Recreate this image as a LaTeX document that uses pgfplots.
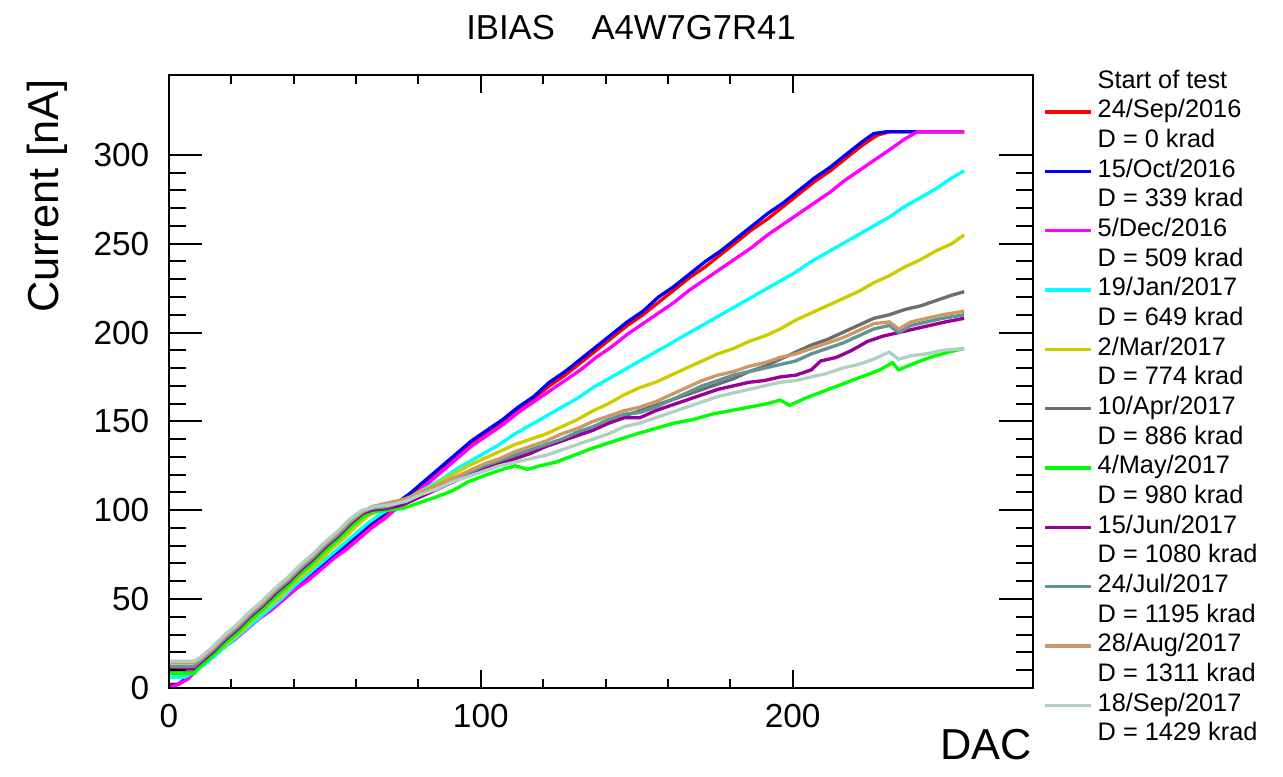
\documentclass[border=0pt]{standalone}
\usepackage{pgfplots}
\pgfplotsset{compat=1.18}
\usepackage{fontspec}
\setmainfont{Liberation Sans}
\definecolor{cRed}{RGB}{255,0,0}
\definecolor{cBlue}{RGB}{0,0,255}
\definecolor{cMag}{RGB}{255,0,255}
\definecolor{cCyan}{RGB}{0,255,255}
\definecolor{cYel}{RGB}{204,204,0}
\definecolor{cGray}{RGB}{110,110,110}
\definecolor{cGreen}{RGB}{0,255,0}
\definecolor{cPurp}{RGB}{153,0,153}
\definecolor{cTeal}{RGB}{95,149,149}
\definecolor{cBrown}{RGB}{204,153,102}
\definecolor{cLight}{RGB}{176,208,196}
\begin{document}
\begin{tikzpicture}
\useasboundingbox (-50.7pt,-26.7pt) rectangle (334.3pt,206.4pt);
\begin{axis}[
  at={(0,0)}, anchor=south west, scale only axis,
  width=259.2pt, height=183.9pt,
  xmin=0, xmax=277, ymin=0, ymax=345,
  xtick={0,100,200}, minor x tick num=4,
  ytick=\empty,
  tick align=inside, xtick pos=both,
  major tick length=5.4pt, minor tick length=2.7pt,
  axis line style={line width=0.6pt},
  tick style={line width=0.6pt, black},
  /pgf/number format/assume math mode=true,
  tick label style={font=\fontsize{10}{12}\selectfont},
  xticklabel style={yshift=-1.5pt},
  title={IBIAS\hspace{11pt}A4W7G7R41},
  title style={at={(axis description cs:0.535,1.045)}, anchor=center, font=\fontsize{10.4}{12}\selectfont},
  xlabel={DAC},
  xlabel style={at={(axis description cs:1,-0.093)}, anchor=east, inner sep=0pt, font=\fontsize{13}{15}\selectfont},
  ylabel={Current [nA]},
  ylabel style={at={(axis description cs:-0.141,1.012)}, anchor=east, font=\fontsize{13}{15}\selectfont},
  legend style={at={(axis description cs:1,1)}, anchor=north west, xshift=3.0pt, yshift=1.1pt,
    draw=none, fill=none, inner sep=0pt, row sep=2.6pt, column sep=1.5pt,
    font=\fontsize{7.6}{9}\selectfont,
    nodes={inner sep=0pt, text height=4.9pt, text depth=1.4pt}},
  legend cell align=left,
  legend image code/.code={\draw[#1] (0pt,0pt) -- (13.8pt,0pt);},
  every axis plot/.append style={line width=1pt},
]
\addlegendimage{empty legend}\addlegendentry{Start of test}
\addplot[cRed] coordinates {(0,2)(3,2)(6,5)(9,11)(13,17)(17,22)(21,28)(25,34)(29,40)(33,45)(37,51)(41,57)(45,62)(49,68)(53,74)(57,79)(61,85)(65,91)(69,97)(73,102)(77,108)(81,113)(85,119)(89,125)(93,131)(97,137)(102,143)(107,150)(112,156)(117,163)(122,170)(127,176)(132,183)(137,190)(142,197)(147,204)(152,210)(157,217)(162,224)(167,231)(172,237)(177,244)(182,251)(187,258)(192,264)(197,271)(202,278)(207,285)(212,291)(217,298)(222,305)(227,311)(231,313)(240,313)(255,313)};
\addlegendentry{24/Sep/2016}
\addlegendimage{empty legend}\addlegendentry{D = 0 krad}
\addplot[cBlue] coordinates {(0,1)(3,2)(6,6)(9,12)(13,18)(17,23)(21,29)(25,35)(29,41)(33,47)(37,52)(41,58)(45,64)(49,69)(53,75)(57,81)(61,87)(65,93)(69,98)(73,104)(77,109)(81,115)(85,121)(89,127)(93,133)(97,139)(102,145)(107,151)(112,158)(117,164)(122,172)(127,178)(132,185)(137,192)(142,199)(147,206)(152,212)(157,220)(162,226)(167,233)(172,240)(177,246)(182,253)(187,260)(192,267)(197,273)(202,280)(207,287)(212,293)(217,300)(222,307)(226,312)(230,313)(240,313)(255,313)};
\addlegendentry{15/Oct/2016}
\addlegendimage{empty legend}\addlegendentry{D = 339 krad}
\addplot[cMag] coordinates {(0,0)(3,2)(6,5)(9,10)(13,16)(17,22)(21,27)(25,33)(29,39)(33,44)(37,50)(41,56)(45,61)(49,67)(53,73)(57,78)(61,84)(65,90)(69,95)(73,101)(77,106)(81,112)(85,118)(89,124)(93,130)(97,136)(102,142)(107,148)(112,155)(117,161)(122,167)(127,173)(132,179)(137,186)(142,192)(147,199)(152,205)(157,211)(162,217)(167,224)(172,230)(177,236)(182,242)(187,248)(192,255)(197,261)(202,267)(207,273)(212,279)(217,286)(222,292)(227,298)(232,304)(236,309)(240,313)(247,313)(255,313)};
\addlegendentry{5/Dec/2016}
\addlegendimage{empty legend}\addlegendentry{D = 509 krad}
\addplot[cCyan] coordinates {(0,6)(5,6)(8,9)(12,14)(16,20)(20,26)(24,32)(28,38)(32,44)(36,50)(40,57)(44,63)(48,69)(52,75)(56,81)(60,87)(64,93)(68,98)(72,102)(76,106)(80,110)(84,114)(88,118)(92,123)(96,127)(101,132)(106,137)(111,143)(116,148)(121,153)(126,158)(131,163)(136,169)(141,174)(146,179)(151,184)(156,189)(161,194)(166,199)(171,204)(176,209)(181,214)(186,219)(191,224)(196,229)(201,234)(206,240)(211,245)(216,250)(221,255)(226,260)(231,265)(236,271)(241,276)(246,281)(251,287)(255,291)};
\addlegendentry{19/Jan/2017}
\addlegendimage{empty legend}\addlegendentry{D = 649 krad}
\addplot[cYel] coordinates {(0,9)(7,9)(9,11)(12,15)(16,21)(20,27)(24,33)(28,40)(32,46)(36,52)(40,59)(44,65)(48,71)(52,78)(56,84)(60,91)(64,97)(68,100)(72,104)(76,106)(80,110)(84,113)(88,117)(92,121)(96,125)(101,129)(106,133)(111,137)(116,140)(121,143)(126,147)(131,151)(136,156)(141,160)(146,165)(151,169)(156,172)(161,176)(166,180)(171,184)(176,188)(181,191)(186,195)(191,198)(196,202)(201,207)(206,211)(211,215)(216,219)(221,223)(226,228)(231,232)(236,237)(241,241)(246,246)(251,250)(255,255)};
\addlegendentry{2/Mar/2017}
\addlegendimage{empty legend}\addlegendentry{D = 774 krad}
\addplot[cGray] coordinates {(0,10)(8,10)(10,13)(14,19)(18,26)(22,32)(26,39)(30,45)(34,52)(38,58)(42,65)(46,71)(50,78)(54,84)(58,91)(62,97)(65,100)(70,102)(75,104)(80,108)(85,112)(90,116)(96,121)(101,124)(106,127)(111,130)(116,133)(121,136)(126,139)(131,143)(136,146)(141,149)(146,153)(151,156)(156,159)(161,162)(166,165)(171,168)(176,171)(181,174)(186,178)(191,181)(196,185)(201,189)(206,193)(211,196)(216,200)(221,204)(226,208)(231,210)(236,213)(241,215)(246,218)(251,221)(255,223)};
\addlegendentry{10/Apr/2017}
\addlegendimage{empty legend}\addlegendentry{D = 886 krad}
\addplot[cGreen] coordinates {(0,8)(8,8)(10,12)(14,18)(18,25)(22,31)(26,38)(30,44)(34,51)(38,57)(42,64)(46,70)(50,77)(54,83)(58,90)(62,96)(65,99)(70,100)(75,101)(80,104)(85,107)(91,111)(96,116)(102,120)(107,123)(111,125)(115,123)(119,125)(124,127)(130,131)(136,135)(143,139)(150,143)(156,146)(162,149)(168,151)(174,154)(180,156)(186,158)(192,160)(196,162)(199,159)(204,163)(210,167)(216,171)(222,175)(228,179)(232,183)(234,179)(238,182)(244,186)(250,189)(255,191)};
\addlegendentry{4/May/2017}
\addlegendimage{empty legend}\addlegendentry{D = 980 krad}
\addplot[cPurp] coordinates {(0,11)(8,11)(10,14)(14,20)(18,27)(22,33)(26,40)(30,46)(34,53)(38,59)(42,66)(46,72)(50,79)(54,85)(58,92)(62,98)(65,100)(70,101)(75,103)(80,107)(85,111)(90,115)(96,120)(101,123)(106,126)(111,129)(116,132)(121,136)(126,139)(131,142)(136,145)(141,149)(146,152)(151,152)(156,156)(161,159)(166,162)(171,165)(176,168)(181,170)(186,172)(191,173)(196,175)(201,176)(206,179)(209,184)(214,186)(219,190)(224,195)(229,198)(234,200)(239,202)(244,204)(249,206)(255,208)};
\addlegendentry{15/Jun/2017}
\addlegendimage{empty legend}\addlegendentry{D = 1080 krad}
\addplot[cTeal] coordinates {(0,12)(8,12)(10,15)(14,21)(18,28)(22,34)(26,41)(30,47)(34,54)(38,60)(42,67)(46,73)(50,80)(54,86)(58,93)(62,99)(65,101)(70,102)(75,105)(80,109)(85,113)(90,117)(96,121)(101,125)(106,128)(111,131)(116,134)(121,137)(126,140)(131,144)(136,147)(141,151)(146,154)(151,155)(156,158)(161,162)(166,166)(171,170)(176,173)(181,176)(186,178)(191,180)(196,182)(201,184)(206,188)(211,191)(216,194)(221,198)(226,202)(231,204)(234,200)(238,204)(243,206)(248,208)(255,210)};
\addlegendentry{24/Jul/2017}
\addlegendimage{empty legend}\addlegendentry{D = 1195 krad}
\addplot[cBrown] coordinates {(0,14)(8,14)(10,16)(14,22)(18,29)(22,35)(26,42)(30,48)(34,55)(38,61)(42,68)(46,74)(50,81)(54,87)(58,94)(62,99)(65,102)(70,104)(75,106)(80,109)(85,113)(90,117)(96,122)(101,126)(106,129)(111,133)(116,136)(121,139)(126,143)(131,146)(136,150)(141,153)(146,156)(151,158)(156,161)(161,165)(166,169)(171,173)(176,176)(181,178)(186,181)(191,183)(196,186)(201,188)(206,191)(211,194)(216,197)(221,201)(226,205)(231,206)(234,202)(238,206)(243,208)(248,210)(255,212)};
\addlegendentry{28/Aug/2017}
\addlegendimage{empty legend}\addlegendentry{D = 1311 krad}
\addplot[cLight] coordinates {(0,15)(8,15)(10,17)(14,23)(18,30)(22,36)(26,43)(30,49)(34,56)(38,62)(42,69)(46,75)(50,82)(54,88)(58,95)(62,100)(66,102)(71,103)(76,105)(81,109)(86,112)(91,116)(96,119)(101,122)(106,125)(111,127)(116,129)(121,131)(126,134)(131,137)(136,140)(141,143)(146,147)(151,149)(156,152)(161,155)(166,158)(171,161)(176,164)(181,166)(186,168)(191,170)(196,172)(201,173)(206,175)(211,177)(216,180)(221,182)(226,185)(231,189)(234,185)(238,187)(243,188)(248,190)(255,191)};
\addlegendentry{18/Sep/2017}
\addlegendimage{empty legend}\addlegendentry{D = 1429 krad}
\end{axis}
\begin{axis}[
  at={(0,0)}, anchor=south west, scale only axis,
  width=259.2pt, height=183.9pt,
  xmin=0, xmax=277, ymin=0, ymax=345,
  xtick=\empty,
  ytick={0,50,100,150,200,250,300}, minor y tick num=4,
  tick align=inside, ytick pos=both,
  major tick length=10pt, minor tick length=5pt,
  axis line style={line width=0.6pt},
  tick style={line width=0.6pt, black},
  /pgf/number format/assume math mode=true,
  tick label style={font=\fontsize{10}{12}\selectfont},
  yticklabel style={xshift=-2.4pt},
]
\end{axis}
\end{tikzpicture}
\end{document}
